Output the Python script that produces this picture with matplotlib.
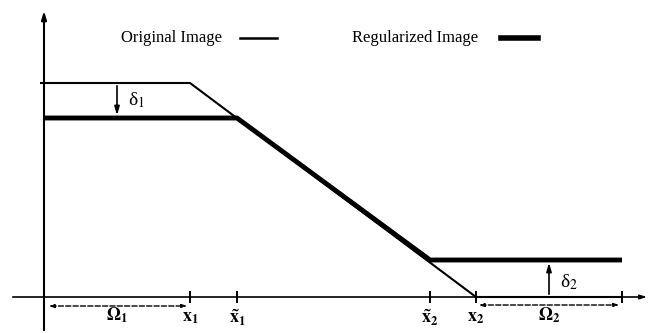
import matplotlib; matplotlib.use("Agg")
import matplotlib.pyplot as plt

# breakpoints along the x axis (origin at the axes crossing)
x_start = -4
x1, x1_t, x2_t, x2, x_end = 146, 193, 386, 432, 578
# intensity levels
orig_high, orig_low = 214, 0
reg_high, reg_low = 179, 37

orig_x = [x_start, x1, x2, x_end]
orig_y = [orig_high, orig_high, orig_low, orig_low]
reg_x = [0, x1_t, x2_t, x_end]
reg_y = [reg_high, reg_high, reg_low, reg_low]

tick_pos = [x1, x1_t, x2_t, x2, x_end]
tick_lbl = [r"$\mathbf{x_1}$", r"$\mathbf{\tilde{x}_1}$", r"$\mathbf{\tilde{x}_2}$",
            r"$\mathbf{x_2}$", None]

plt.rcParams["mathtext.fontset"] = "stix"
plt.rcParams["font.family"] = "Liberation Serif"

fig = plt.figure(figsize=(6.51, 3.33), dpi=100)
ax = fig.add_axes([0, 0, 1, 1])
ax.set_xlim(-44, 607); ax.set_ylim(-36, 297); ax.axis("off")

# axes with arrows
ax.annotate("", xy=(0, 289), xytext=(0, -36),
            arrowprops=dict(arrowstyle="-|>,head_length=0.5,head_width=0.15", lw=1.5, color="k"))
ax.annotate("", xy=(606, 0), xytext=(-34, 0),
            arrowprops=dict(arrowstyle="-|>,head_length=0.4,head_width=0.12", lw=1.2, color="k"))

ax.plot(orig_x, orig_y, color="k", lw=1.5, solid_capstyle="butt", zorder=3)
ax.plot(reg_x, reg_y, color="k", lw=3.5, solid_capstyle="butt", zorder=4)

for p, lbl in zip(tick_pos, tick_lbl):
    ax.plot([p, p], [-5, 5], color="k", lw=1.4)
    if lbl:
        ax.text(p, -21, lbl, ha="center", va="center", fontsize=13)

# dashed spans
ax.annotate("", xy=(x1, -9), xytext=(2, -9),
            arrowprops=dict(arrowstyle="<|-|>,head_length=0.3,head_width=0.1", lw=1.0, ls="--", color="k"))
ax.annotate("", xy=(x_end, -8), xytext=(x2, -8),
            arrowprops=dict(arrowstyle="<|-|>,head_length=0.3,head_width=0.1", lw=1.0, ls="--", color="k"))
ax.text((0 + x1) / 2, -18, r"$\mathbf{\Omega_1}$", ha="center", va="center", fontsize=13)
ax.text((x2 + x_end) / 2, -18, r"$\mathbf{\Omega_2}$", ha="center", va="center", fontsize=13)

# deltas
ax.annotate("", xy=(73, reg_high), xytext=(73, orig_high),
            arrowprops=dict(arrowstyle="-|>,head_length=0.5,head_width=0.15", lw=1.2, color="k"))
ax.text(84, 197, "δ$_1$", ha="left", va="center", fontsize=14)
ax.annotate("", xy=(505, reg_low), xytext=(505, 0),
            arrowprops=dict(arrowstyle="-|>,head_length=0.5,head_width=0.15", lw=1.2, color="k"))
ax.text(516, 15, "δ$_2$", ha="left", va="center", fontsize=14)

# legend
ax.text(77, 259, "Original Image", ha="left", va="center", fontsize=12)
ax.plot([196, 233], [259, 259], color="k", lw=1.8)
ax.text(308, 259, "Regularized Image", ha="left", va="center", fontsize=12)
ax.plot([457, 494], [259, 259], color="k", lw=4.0)

fig.savefig("out.png", dpi=100)
